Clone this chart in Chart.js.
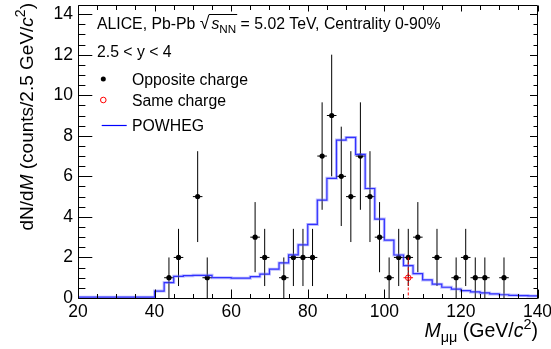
<!DOCTYPE html>
<html>
<head>
<meta charset="utf-8">
<script src="https://cdn.jsdelivr.net/npm/chart.js@4.4.1/dist/chart.umd.min.js"></script>
<style>
  html, body { margin: 0; padding: 0; background: #fff; }
  canvas { display: block; }
</style>
</head>
<body>
<canvas id="c" width="551" height="349"></canvas>
<script>
// ---------------- data ----------------
// Opposite-charge dimuon counts (bin centres, GeV/c^2)
const oppX = [43.75, 46.25, 51.25, 53.75, 66.25, 68.75, 73.75, 76.25, 78.75, 81.25, 83.75, 86.25, 88.75, 91.25, 93.75, 96.25, 98.75, 101.25, 103.75, 106.25, 108.75, 113.75, 118.75, 121.25, 123.75, 126.25, 131.25];
const oppY = [1, 2, 5, 1, 3, 2, 1, 2, 2, 2, 7, 9, 6, 5, 7, 5, 3, 1, 2, 2, 3, 2, 1, 2, 1, 1, 1];
const oppErr = [1, 1.41, 2.24, 1, 1.73, 1.41, 1, 1.41, 1.41, 1.41, 2.65, 3, 2.45, 2.24, 2.65, 2.24, 1.73, 1, 1.41, 1.41, 1.73, 1.41, 1, 1.41, 1, 1, 1];
// Same-charge
const sameX = [106.25];
const sameY = [1];
const sameErr = [1];
const binHalfWidth = 1.25;
// POWHEG histogram: bin low edges and contents
const powhegEdges = [20, 22.5, 25, 27.5, 30, 32.5, 35, 37.5, 40, 42.5, 45, 47.5, 50, 52.5, 55, 57.5, 60, 62.5, 65, 67.5, 70, 72.5, 75, 77.5, 80, 82.5, 85, 87.5, 90, 92.5, 95, 97.5, 100, 102.5, 105, 107.5, 110, 112.5, 115, 117.5, 120, 122.5, 125, 127.5, 130, 132.5, 135, 137.5, 140];
const powhegVals = [0.04, 0.04, 0.04, 0.04, 0.04, 0.04, 0.04, 0.04, 0.34, 0.76, 1.07, 1.1, 1.12, 1.12, 1.0, 1.0, 0.98, 0.98, 1.05, 1.18, 1.42, 1.73, 2.13, 2.62, 3.63, 4.83, 5.9, 7.79, 7.92, 7.08, 5.4, 3.89, 2.85, 2.12, 1.6, 1.2, 0.89, 0.68, 0.53, 0.44, 0.36, 0.3, 0.25, 0.2, 0.16, 0.13, 0.12, 0.1, 0.1];
// axes
const xTicks = [20, 40, 60, 80, 100, 120, 140];
const yTicks = [0, 2, 4, 6, 8, 10, 12, 14];
const xRange = [20, 140];
const yRange = [0, 14.45];

// ---------------- helpers ----------------
const FONT = '"Liberation Sans", Arial, Helvetica, sans-serif';
function drawRich(ctx, segs, x, y, size, align) {
  const parts = segs.map(s => {
    const small = s.sub || s.sup;
    const fs = (small ? size * 0.74 : size) * (s.scale || 1);
    const font = (s.it ? 'italic ' : '') + fs + 'px ' + FONT;
    ctx.font = font;
    return Object.assign({}, s, { font, w: ctx.measureText(s.t).width + (s.padR || 0),
      dy: s.sub ? size * 0.28 : (s.sup ? -size * 0.42 : 0) });
  });
  const total = parts.reduce((a, p) => a + p.w, 0);
  let cx = align === 'right' ? x - total : x;
  let ovStart = null, ovEnd = null;
  ctx.textBaseline = 'alphabetic';
  ctx.textAlign = 'left';
  for (const p of parts) {
    ctx.font = p.font;
    ctx.fillText(p.t, cx, y + p.dy);
    if (p.root) ovStart = cx + p.w - (p.padR || 0) - 0.5;
    if (p.over) { ovEnd = cx + p.w; }
    cx += p.w;
  }
  if (ovStart !== null && ovEnd !== null) {
    ctx.save();
    ctx.lineWidth = 1;
    ctx.strokeStyle = ctx.fillStyle;
    ctx.beginPath();
    const oy = Math.round(y - size * 0.93) + 0.5;
    ctx.moveTo(ovStart, oy);
    ctx.lineTo(ovEnd + 1, oy);
    ctx.stroke();
    ctx.restore();
  }
}

const bgPlugin = {
  id: 'bg',
  beforeDraw(chart) {
    const c = chart.ctx;
    c.save(); c.fillStyle = '#fff'; c.fillRect(0, 0, chart.width, chart.height); c.restore();
  }
};

const errPlugin = {
  id: 'errbars',
  afterDatasetDraw(chart, args) {
    if (args.index !== 1) return;
    const { ctx, scales: { x, y }, chartArea: a } = chart;
    ctx.save();
    ctx.beginPath(); ctx.rect(a.left, a.top, a.right - a.left, a.bottom - a.top); ctx.clip();
    ctx.lineWidth = 1;
    ctx.strokeStyle = '#000';
    ctx.beginPath();
    for (let i = 0; i < oppX.length; i++) {
      const cx = x.getPixelForValue(oppX[i]);
      const cy = y.getPixelForValue(oppY[i]);
      ctx.moveTo(cx, y.getPixelForValue(oppY[i] + oppErr[i]));
      ctx.lineTo(cx, y.getPixelForValue(Math.max(0, oppY[i] - oppErr[i])));
      ctx.moveTo(x.getPixelForValue(oppX[i] - binHalfWidth), cy);
      ctx.lineTo(x.getPixelForValue(oppX[i] + binHalfWidth), cy);
    }
    ctx.stroke();
    ctx.strokeStyle = '#ff0000';
    for (let i = 0; i < sameX.length; i++) {
      const cx = x.getPixelForValue(sameX[i]);
      const cy = y.getPixelForValue(sameY[i]);
      ctx.setLineDash([3, 2]);
      ctx.beginPath();
      ctx.moveTo(cx, y.getPixelForValue(sameY[i] + sameErr[i]));
      ctx.lineTo(cx, y.getPixelForValue(Math.max(0, sameY[i] - sameErr[i])));
      ctx.stroke();
      ctx.setLineDash([]);
      ctx.beginPath();
      ctx.moveTo(x.getPixelForValue(sameX[i] - binHalfWidth), cy);
      ctx.lineTo(x.getPixelForValue(sameX[i] + binHalfWidth), cy);
      ctx.stroke();
    }
    ctx.restore();
  }
};

const framePlugin = {
  id: 'frame',
  afterDraw(chart) {
    const { ctx, scales: { x, y }, chartArea: a } = chart;
    ctx.save();
    const L = Math.floor(a.left) + 0.5, R = Math.floor(a.right) + 0.5;
    const T = Math.floor(a.top) + 0.5, B = Math.floor(a.bottom) + 0.5;
    ctx.strokeStyle = '#000';
    ctx.lineWidth = 1;
    ctx.beginPath();
    ctx.rect(L, T, R - L, B - T);
    // x ticks (bottom & top), minor every 5
    for (let v = xRange[0]; v <= xRange[1] + 1e-9; v += 5) {
      const px = Math.round(x.getPixelForValue(v)) + 0.5;
      const major = (v % 20 === 0);
      ctx.moveTo(px, B); ctx.lineTo(px, B - (major ? 9 : 4.5));
      ctx.moveTo(px, T); ctx.lineTo(px, T + (major ? 6 : 4.5));
    }
    // y ticks (left & right), minor every 0.5
    for (let v = 0; v <= yRange[1] + 1e-9; v += 0.5) {
      const py = Math.round(y.getPixelForValue(v)) + 0.5;
      const major = (Math.abs(v % 2) < 1e-9);
      ctx.moveTo(L, py); ctx.lineTo(L + (major ? 13.8 : 6.9), py);
      ctx.moveTo(R, py); ctx.lineTo(R - (major ? 7.5 : 4), py);
    }
    ctx.stroke();

    // ----- texts -----
    const LS = 15.8;
    ctx.fillStyle = '#000';
    drawRich(ctx, [
      { t: 'ALICE, Pb-Pb ' }, { t: '\u221A', scale: 1.12, root: true, padR: 2 }, { t: 's', it: true }, { t: 'NN', sub: true, over: true },
      { t: ' = 5.02 TeV, Centrality 0-90%' }
    ], 97, 29, LS, 'left');
    drawRich(ctx, [{ t: '2.5 < y < 4' }], 97, 57, LS, 'left');
    drawRich(ctx, [{ t: 'Opposite charge' }], 132, 84.5, LS, 'left');
    drawRich(ctx, [{ t: 'Same charge' }], 132, 105.5, LS, 'left');
    drawRich(ctx, [{ t: 'POWHEG' }], 132, 131, LS, 'left');
    // legend symbols
    ctx.beginPath(); ctx.fillStyle = '#000'; ctx.arc(103.3, 79, 2.5, 0, Math.PI * 2); ctx.fill();
    ctx.beginPath(); ctx.strokeStyle = '#ff0000'; ctx.lineWidth = 1; ctx.arc(103.3, 100, 2.8, 0, Math.PI * 2); ctx.stroke();
    ctx.beginPath(); ctx.strokeStyle = '#0000ff'; ctx.lineWidth = 1.2; ctx.moveTo(101.7, 125.5); ctx.lineTo(126.7, 125.5); ctx.stroke();

    // axis titles
    ctx.fillStyle = '#000';
    drawRich(ctx, [
      { t: 'M', it: true }, { t: '\u03BC\u03BC', sub: true }, { t: ' (GeV/' }, { t: 'c', it: true }, { t: '2', sup: true }, { t: ')' }
    ], 538, 337, 19.5, 'right');
    ctx.save();
    ctx.translate(33, 3);
    ctx.rotate(-Math.PI / 2);
    drawRich(ctx, [
      { t: 'dN/d' }, { t: 'M', it: true }, { t: ' (counts/2.5 GeV/' }, { t: 'c', it: true }, { t: '2', sup: true }, { t: ')' }
    ], 0, 0, 19, 'right');
    ctx.restore();
    ctx.restore();
  }
};

const powhegPts = powhegEdges.map((e, i) => ({ x: e, y: powhegVals[i] }));
const oppPts = oppX.map((v, i) => ({ x: v, y: oppY[i] }));
const samePts = sameX.map((v, i) => ({ x: v, y: sameY[i] }));

new Chart(document.getElementById('c').getContext('2d'), {
  type: 'scatter',
  data: {
    datasets: [
      { label: 'POWHEG band', data: powhegPts, showLine: true, stepped: true, borderColor: 'rgba(110,110,255,0.45)', borderWidth: 3, pointRadius: 0, fill: false },
      { label: 'POWHEG', data: powhegPts, showLine: true, stepped: true, borderColor: '#0000ff', borderWidth: 1.2, pointRadius: 0, fill: false },
      { label: 'Opposite charge', data: oppPts, showLine: false, pointRadius: 2.6, pointBackgroundColor: '#000', pointBorderColor: '#000', pointBorderWidth: 0 },
      { label: 'Same charge', data: samePts, showLine: false, pointRadius: 2.8, pointBackgroundColor: 'rgba(255,255,255,0)', pointBorderColor: '#ff0000', pointBorderWidth: 1 }
    ]
  },
  options: {
    responsive: false,
    animation: false,
    events: [],
    layout: { padding: { top: 4, right: 13.5, left: 0, bottom: 0 } },
    plugins: { legend: { display: false }, tooltip: { enabled: false } },
    scales: {
      x: {
        type: 'linear', min: xRange[0], max: xRange[1],
        grid: { display: false, drawTicks: false }, border: { display: false },
        afterBuildTicks: s => { s.ticks = xTicks.map(v => ({ value: v })); },
        afterFit: s => { s.height = 51; s.paddingLeft = 0; s.paddingRight = 0; },
        ticks: { color: '#000', font: { family: FONT, size: 17.5 }, padding: 4, maxRotation: 0, autoSkip: false }
      },
      y: {
        type: 'linear', min: yRange[0], max: yRange[1],
        grid: { display: false, drawTicks: false }, border: { display: false },
        afterBuildTicks: s => { s.ticks = yTicks.map(v => ({ value: v })); },
        afterFit: s => { s.width = 78; s.paddingTop = 0; s.paddingBottom = 0; },
        ticks: { color: '#000', font: { family: FONT, size: 17.5 }, padding: 5, autoSkip: false }
      }
    }
  },
  plugins: [bgPlugin, errPlugin, framePlugin]
});
</script>
</body>
</html>
